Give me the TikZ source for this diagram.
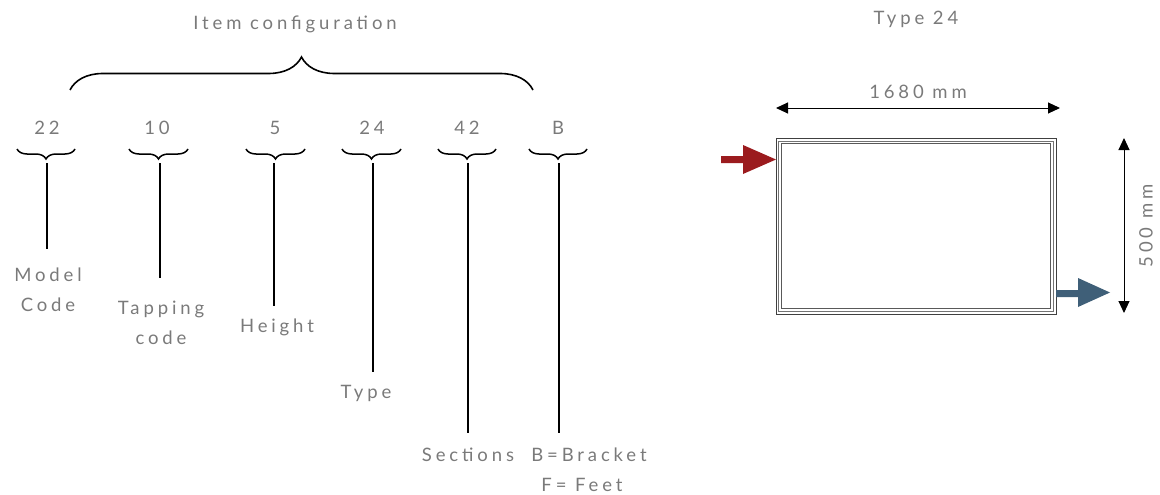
\documentclass[tikz,border=0pt]{standalone}
\usepackage{fontspec}
\setmainfont{Lato}[LetterSpace=21]
\usetikzlibrary{decorations.pathreplacing,arrows.meta}
\definecolor{txt}{HTML}{7A7A7A}
\definecolor{redarr}{HTML}{9B1B1E}
\definecolor{bluearr}{HTML}{3F5F78}
\tikzset{
  lbl/.style={text=txt,font=\fontsize{18.5}{30}\selectfont,inner sep=0pt,align=center},
  num/.style={text=txt,font=\fontsize{18.5}{20}\selectfont,inner sep=0pt},
  smallbrace/.style={decorate,decoration={brace,mirror,amplitude=10pt},line width=1.5pt},
  bigbrace/.style={decorate,decoration={brace,amplitude=33pt},line width=1.6pt},
  stem/.style={line width=2pt},
  dim/.style={line width=1pt,{Triangle[length=12pt,width=11pt]}-{Triangle[length=12pt,width=11pt]}},
}
\begin{document}
\begin{tikzpicture}[x=1pt,y=-1pt]
\useasboundingbox (0,0) rectangle (1160,495);
% title
\node[lbl] (title) at (295,24) {Item configuration};
\coordinate (bl) at (70,90);
\coordinate (br) at (533,90);
\draw[bigbrace] (bl) -- (br);
% numbers
\foreach \n/\t/\x/\a/\b in {a/22/47/17/75, b/10/157/129/188, c/5/275/246/305, d/24/372/342/401, e/42/467/438/496, f/B/558/529/587}{
  \node[num] (num\n) at (\x,128) {\t};
  \coordinate (bs\n) at (\a,149);
  \coordinate (be\n) at (\b,149);
  \draw[smallbrace] (bs\n) -- (be\n);
}
\foreach \n/\x/\e in {a/47/249, b/160/278, c/274/306, d/373/372, e/468/433, f/559/433}{
  \coordinate (top\n) at (\x,163);
  \coordinate (end\n) at (\x,\e);
  \draw[stem] (top\n) -- (end\n);
}
\node[lbl] (la) at (48,290) {Model\\Code};
\node[lbl] (lb) at (161,323) {Tapping\\code};
\node[lbl] (lc) at (277,327) {Height};
\node[lbl] (ld) at (366,393) {Type};
\node[lbl] (le) at (468,455) {Sections};
\node[lbl] (lf) at (589,455) {B=Bracket};
\node[lbl] (lg) at (582,485) {F= Feet};
% right part
\node[lbl] (t24) at (916,19) {Type 24};
\coordinate (hl) at (776,108);
\coordinate (hr) at (1060,108);
\draw[dim] (hl) -- (hr);
\node[lbl] (hdim) at (918,92) {1680 mm};
\coordinate (vt) at (1124,138);
\coordinate (vb) at (1124,313);
\draw[dim] (vt) -- (vb);
\node[lbl,rotate=90] (vdim) at (1146,226) {500 mm};
% radiator
\draw[line width=0.9pt,black!75] (776,138.5) rectangle (1056,314);
\draw[line width=0.7pt,black!55] (778.7,141.2) rectangle (1053.3,311.3);
\draw[line width=0.9pt,black!65] (781.3,143.8) rectangle (1050.7,308.7);
\fill[white] (782.5,144.4) rectangle (845,145.5);
% arrows
\fill[redarr] (721,156) -- (743,156) -- (743,145) -- (776,159.5) -- (743,174) -- (743,163) -- (721,163) -- cycle;
\fill[bluearr] (1056,290) -- (1078,290) -- (1078,278) -- (1110,292.5) -- (1078,307) -- (1078,297) -- (1056,297) -- cycle;
\end{tikzpicture}
\end{document}
